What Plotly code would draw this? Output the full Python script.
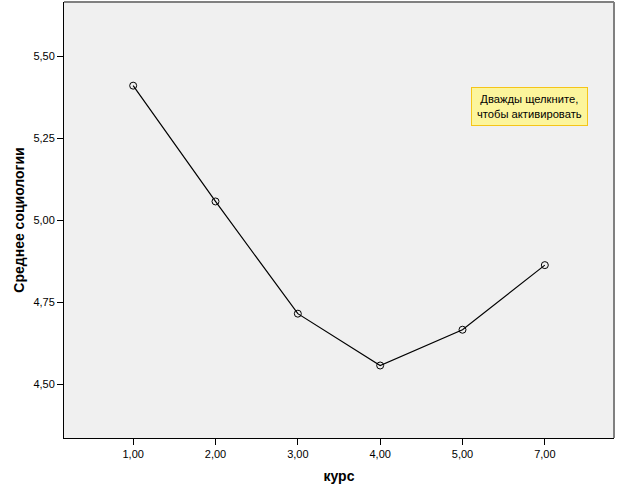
import plotly.graph_objects as go

categories = ["1,00", "2,00", "3,00", "4,00", "5,00", "7,00"]
means = [5.411, 5.058, 4.716, 4.558, 4.667, 4.864]
y_ticks = [4.50, 4.75, 5.00, 5.25, 5.50]
y_tick_labels = ["4,50", "4,75", "5,00", "5,25", "5,50"]

fig = go.Figure()
fig.add_trace(go.Scatter(
    x=list(range(len(categories))), y=means, mode="lines+markers",
    line=dict(color="black", width=1.2),
    marker=dict(symbol="circle-open", size=7, color="black", line=dict(width=1)),
    hoverinfo="skip", showlegend=False,
))

font = "Liberation Sans, Arial, sans-serif"
fig.update_layout(
    width=619, height=488,
    margin=dict(l=64, r=5, t=2, b=50),
    paper_bgcolor="white", plot_bgcolor="#F0F0F0",
    font=dict(family=font, size=11, color="black"),
    xaxis=dict(
        range=[-0.84, 5.84], tickvals=list(range(len(categories))), ticktext=categories,
        ticks="outside", ticklen=6, tickcolor="black", tickwidth=1,
        showgrid=False, zeroline=False, showline=True, linecolor="black", linewidth=1,
        title=dict(text="<b>курс</b>", font=dict(size=14, family=font), standoff=11),
        automargin=False,
    ),
    yaxis=dict(
        range=[4.337, 5.666], tickvals=y_ticks, ticktext=y_tick_labels,
        ticks="outside", ticklen=6, tickcolor="black", tickwidth=1,
        showgrid=False, zeroline=False, showline=True, linecolor="black", linewidth=1,
        title=dict(text="<b>Среднее социологии</b>", font=dict(size=14, family=font), standoff=5),
        automargin=False,
    ),
    shapes=[
        dict(type="line", xref="paper", yref="paper", x0=0, x1=1, y0=1, y1=1,
             line=dict(color="#808080", width=2)),
        dict(type="line", xref="paper", yref="paper", x0=1, x1=1, y0=0, y1=1,
             line=dict(color="#808080", width=2)),
    ],
    annotations=[
        dict(xref="paper", yref="paper", x=0.847, y=0.761, xanchor="center", yanchor="middle",
             text="Дважды щелкните,<br>чтобы активировать", showarrow=False,
             font=dict(size=11.2, family=font, color="black"),
             bgcolor="#FCF59C", bordercolor="#F5C518", borderwidth=1, borderpad=5),
    ],
)

fig.write_html("out.html", config={"displayModeBar": False},
               post_script="document.body.style.margin='0';document.body.style.overflow='hidden';")
